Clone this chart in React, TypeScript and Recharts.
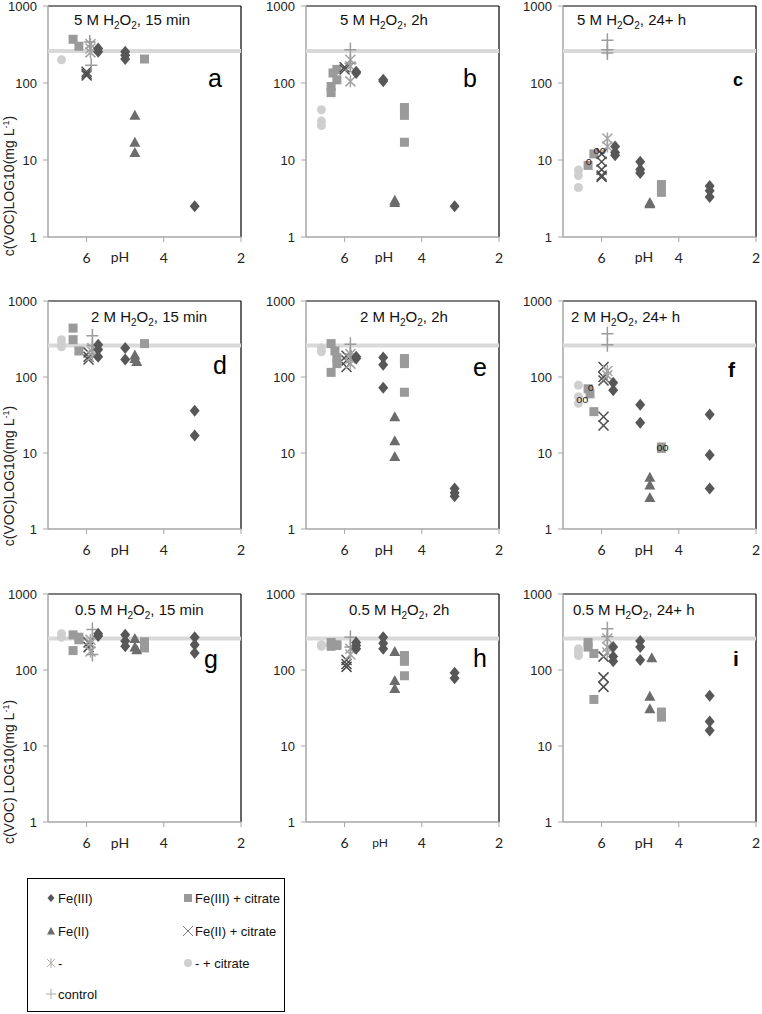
import React from 'react';
import { ScatterChart, Scatter, XAxis, YAxis, ReferenceLine } from 'recharts';

type T = [number, number];
type N = [number, number, string];

const xTicks = [6, 4, 2];
const yTicks = [1, 10, 100, 1000];
const controlLevel = 260;

// ---- panel a : 5 M H2O2, 15 min
const aFe3: T[] = [[5.7, 280], [5.7, 255], [5.0, 255], [5.0, 230], [5.0, 205], [3.2, 2.5]];
const aFe3Cit: T[] = [[6.35, 370], [6.2, 300], [4.5, 205]];
const aFe2: T[] = [[4.75, 38], [4.75, 17], [4.75, 12.5]];
const aFe2Cit: T[] = [[6.0, 140], [6.0, 125], [6.0, 132]];
const aNone: T[] = [[5.9, 320], [5.9, 250], [5.9, 280]];
const aNoneCit: T[] = [[6.65, 200]];
const aControl: T[] = [[5.92, 340], [5.88, 170]];

// ---- panel b : 5 M H2O2, 2h
const bFe3: T[] = [[5.7, 140], [5.7, 135], [5.0, 105], [5.0, 110], [3.15, 2.5]];
const bFe3Cit: T[] = [[6.35, 75], [6.35, 90], [6.3, 135], [6.2, 150], [6.2, 110], [4.45, 48], [4.45, 38], [4.45, 17]];
const bFe2: T[] = [[4.7, 3], [4.7, 2.8]];
const bFe2Cit: T[] = [[6.0, 150], [6.0, 160]];
const bNone: T[] = [[5.85, 200], [5.85, 105], [5.85, 165]];
const bNoneCit: T[] = [[6.6, 45], [6.6, 32], [6.6, 28]];
const bControl: T[] = [[5.85, 270], [5.85, 180]];

// ---- panel c : 5 M H2O2, 24+ h
const cFe3: T[] = [[5.65, 15], [5.65, 12.5], [5.65, 11.5], [5.0, 9.5], [5.0, 7.5], [5.0, 6.8], [3.2, 4.6], [3.2, 4.0], [3.2, 3.3]];
const cFe3Cit: T[] = [[6.35, 8.5], [6.2, 12], [4.45, 4.8], [4.45, 3.8]];
const cFe2: T[] = [[4.75, 2.8], [4.75, 2.7]];
const cFe2Cit: T[] = [[6.0, 12], [6.0, 9.5], [6.0, 7.5], [6.0, 6.3], [6.0, 6.0]];
const cNone: T[] = [[5.85, 19], [5.85, 15]];
const cNoneCit: T[] = [[6.6, 7.4], [6.6, 6.3], [6.6, 4.4]];
const cControl: T[] = [[5.85, 360], [5.85, 270], [5.85, 245]];
const cNotes: N[] = [[6.05, 13.5, 'oo'], [6.33, 9.8, 'o']];

// ---- panel d : 2 M H2O2, 15 min
const dFe3: T[] = [[5.7, 265], [5.7, 230], [5.7, 185], [5.0, 240], [5.0, 170], [3.2, 36], [3.2, 17]];
const dFe3Cit: T[] = [[6.35, 440], [6.35, 310], [6.2, 220], [4.5, 275]];
const dFe2: T[] = [[4.75, 195], [4.7, 160], [4.75, 175]];
const dFe2Cit: T[] = [[5.95, 185], [5.95, 170], [5.95, 210]];
const dNone: T[] = [[5.85, 215], [5.85, 190], [5.85, 240]];
const dNoneCit: T[] = [[6.65, 310], [6.65, 270], [6.65, 250]];
const dControl: T[] = [[5.85, 350], [5.85, 260]];

// ---- panel e : 2 M H2O2, 2h
const eFe3: T[] = [[5.7, 185], [5.7, 175], [5.0, 180], [5.0, 145], [5.0, 72], [3.15, 3.4], [3.15, 3.0], [3.15, 2.7]];
const eFe3Cit: T[] = [[6.35, 275], [6.35, 115], [6.25, 220], [6.2, 150], [6.2, 180], [4.45, 175], [4.45, 150], [4.45, 63]];
const eFe2: T[] = [[4.7, 30], [4.7, 14.5], [4.7, 9]];
const eFe2Cit: T[] = [[5.95, 165], [5.95, 135], [5.95, 190]];
const eNone: T[] = [[5.85, 175], [5.85, 150], [5.85, 200]];
const eNoneCit: T[] = [[6.6, 240], [6.6, 215]];
const eControl: T[] = [[5.85, 270], [5.85, 200]];

// ---- panel f : 2 M H2O2, 24+ h
const fFe3: T[] = [[5.7, 84], [5.7, 67], [5.0, 43], [5.0, 25], [3.2, 32], [3.2, 9.4], [3.2, 3.4]];
const fFe3Cit: T[] = [[6.35, 70], [6.3, 60], [6.2, 35], [4.45, 12], [4.45, 11.5]];
const fFe2: T[] = [[4.75, 4.8], [4.75, 3.8], [4.75, 2.6]];
const fFe2Cit: T[] = [[5.95, 135], [5.95, 100], [5.95, 90], [5.95, 30], [5.95, 23]];
const fNone: T[] = [[5.85, 120], [5.85, 105]];
const fNoneCit: T[] = [[6.6, 78], [6.6, 55], [6.6, 45]];
const fControl: T[] = [[5.85, 370], [5.85, 265]];
const fNotes: N[] = [[6.5, 51, 'oo'], [6.28, 74, 'o'], [4.42, 12, 'oo']];

// ---- panel g : 0.5 M H2O2, 15 min
const gFe3: T[] = [[5.7, 300], [5.7, 280], [5.0, 290], [5.0, 240], [5.0, 205], [3.2, 270], [3.2, 215], [3.2, 168]];
const gFe3Cit: T[] = [[6.35, 290], [6.35, 180], [6.2, 270], [6.2, 250], [4.5, 235], [4.5, 195]];
const gFe2: T[] = [[4.75, 260], [4.75, 200], [4.7, 185]];
const gFe2Cit: T[] = [[5.95, 200], [5.95, 230]];
const gNone: T[] = [[5.9, 225], [5.9, 175], [5.9, 250]];
const gNoneCit: T[] = [[6.65, 300], [6.65, 270]];
const gControl: T[] = [[5.85, 340], [5.85, 160]];

// ---- panel h : 0.5 M H2O2, 2h
const hFe3: T[] = [[5.7, 230], [5.7, 210], [5.7, 190], [5.0, 270], [5.0, 225], [5.0, 190], [3.15, 92], [3.15, 78]];
const hFe3Cit: T[] = [[6.35, 230], [6.35, 205], [6.2, 215], [6.2, 210], [4.45, 155], [4.45, 130], [4.45, 84]];
const hFe2: T[] = [[4.7, 175], [4.7, 73], [4.7, 57]];
const hFe2Cit: T[] = [[5.95, 135], [5.95, 110], [5.95, 120]];
const hNone: T[] = [[5.85, 190], [5.85, 160]];
const hNoneCit: T[] = [[6.6, 215], [6.6, 205]];
const hControl: T[] = [[5.85, 270], [5.85, 200]];

// ---- panel i : 0.5 M H2O2, 24+ h
const iFe3: T[] = [[5.7, 200], [5.7, 150], [5.7, 130], [5.0, 240], [5.0, 200], [5.0, 135], [3.2, 46], [3.2, 21], [3.2, 16]];
const iFe3Cit: T[] = [[6.35, 230], [6.35, 200], [6.2, 165], [6.2, 41], [4.45, 28], [4.45, 24]];
const iFe2: T[] = [[4.7, 145], [4.75, 45], [4.75, 31]];
const iFe2Cit: T[] = [[5.95, 150], [5.95, 80], [5.95, 60]];
const iNone: T[] = [[5.85, 200], [5.85, 170], [5.85, 260]];
const iNoneCit: T[] = [[6.6, 190], [6.6, 170], [6.6, 155]];
const iControl: T[] = [[5.85, 350], [5.85, 275]];

const legendLabels = ['Fe(III)', 'Fe(III) + citrate', 'Fe(II)', 'Fe(II) + citrate', '-', '- + citrate', 'control'];

const C = {
  fe3: '#575757',
  fe3cit: '#9a9a9a',
  fe2: '#6c6c6c',
  fe2cit: '#4e4e4e',
  none: '#a4a4a4',
  noneCit: '#cfcfcf',
  control: '#9c9c9c',
  ref: '#d9d9d9',
};

const SANS = 'Liberation Sans, Arial, sans-serif';

const Diamond = (p: any) => (
  <path d={`M${p.cx},${p.cy - 6}L${p.cx + 5},${p.cy}L${p.cx},${p.cy + 6}L${p.cx - 5},${p.cy}Z`} fill={C.fe3} />
);
const Square = (p: any) => <rect x={p.cx - 4.5} y={p.cy - 4.5} width={9} height={9} fill={C.fe3cit} />;
const Triangle = (p: any) => (
  <path d={`M${p.cx},${p.cy - 5.5}L${p.cx + 5.5},${p.cy + 4.5}L${p.cx - 5.5},${p.cy + 4.5}Z`} fill={C.fe2} />
);
const XMark = (p: any) => (
  <path d={`M${p.cx - 5},${p.cy - 5}L${p.cx + 5},${p.cy + 5}M${p.cx - 5},${p.cy + 5}L${p.cx + 5},${p.cy - 5}`} stroke={C.fe2cit} strokeWidth={1.5} fill="none" />
);
const Star = (p: any) => (
  <path
    d={`M${p.cx - 5},${p.cy - 5}L${p.cx + 5},${p.cy + 5}M${p.cx - 5},${p.cy + 5}L${p.cx + 5},${p.cy - 5}M${p.cx},${p.cy - 6}L${p.cx},${p.cy + 6}`}
    stroke={C.none}
    strokeWidth={1.5}
    fill="none"
  />
);
const Dot = (p: any) => <circle cx={p.cx} cy={p.cy} r={4.5} fill={C.noneCit} />;
const Plus = (p: any) => (
  <path d={`M${p.cx - 6},${p.cy}L${p.cx + 6},${p.cy}M${p.cx},${p.cy - 7}L${p.cx},${p.cy + 7}`} stroke={C.control} strokeWidth={1.5} fill="none" />
);
const Note = (p: any) => (
  <text x={p.cx} y={p.cy + 4} textAnchor="middle" fontSize={11} fontFamily={SANS} fill="#222">
    {p.payload.label}
  </text>
);
const NoShape = () => <g />;

const toPts = (a: T[]) => a.map(([x, y]) => ({ x, y }));
const toNotes = (a: N[]) => a.map(([x, y, label]) => ({ x, y, label }));

interface PanelDef {
  id: string;
  left: number;
  top: number;
  h: number;
  fe3: T[];
  fe3cit: T[];
  fe2: T[];
  fe2cit: T[];
  none: T[];
  noneCit: T[];
  control: T[];
  notes?: N[];
}

const COLS = [48, 306, 563];
const ROWS = [6, 301, 594];
const HS = [231, 228, 228];
const PW = 193;

const panels: PanelDef[] = [
  { id: 'a', left: COLS[0], top: ROWS[0], h: HS[0], fe3: aFe3, fe3cit: aFe3Cit, fe2: aFe2, fe2cit: aFe2Cit, none: aNone, noneCit: aNoneCit, control: aControl },
  { id: 'b', left: COLS[1], top: ROWS[0], h: HS[0], fe3: bFe3, fe3cit: bFe3Cit, fe2: bFe2, fe2cit: bFe2Cit, none: bNone, noneCit: bNoneCit, control: bControl },
  { id: 'c', left: COLS[2], top: ROWS[0], h: HS[0], fe3: cFe3, fe3cit: cFe3Cit, fe2: cFe2, fe2cit: cFe2Cit, none: cNone, noneCit: cNoneCit, control: cControl, notes: cNotes },
  { id: 'd', left: COLS[0], top: ROWS[1], h: HS[1], fe3: dFe3, fe3cit: dFe3Cit, fe2: dFe2, fe2cit: dFe2Cit, none: dNone, noneCit: dNoneCit, control: dControl },
  { id: 'e', left: COLS[1], top: ROWS[1], h: HS[1], fe3: eFe3, fe3cit: eFe3Cit, fe2: eFe2, fe2cit: eFe2Cit, none: eNone, noneCit: eNoneCit, control: eControl },
  { id: 'f', left: COLS[2], top: ROWS[1], h: HS[1], fe3: fFe3, fe3cit: fFe3Cit, fe2: fFe2, fe2cit: fFe2Cit, none: fNone, noneCit: fNoneCit, control: fControl, notes: fNotes },
  { id: 'g', left: COLS[0], top: ROWS[2], h: HS[2], fe3: gFe3, fe3cit: gFe3Cit, fe2: gFe2, fe2cit: gFe2Cit, none: gNone, noneCit: gNoneCit, control: gControl },
  { id: 'h', left: COLS[1], top: ROWS[2], h: HS[2], fe3: hFe3, fe3cit: hFe3Cit, fe2: hFe2, fe2cit: hFe2Cit, none: hNone, noneCit: hNoneCit, control: hControl },
  { id: 'i', left: COLS[2], top: ROWS[2], h: HS[2], fe3: iFe3, fe3cit: iFe3Cit, fe2: iFe2, fe2cit: iFe2Cit, none: iNone, noneCit: iNoneCit, control: iControl },
];

const refLine = [
  { x: 7, y: controlLevel },
  { x: 2, y: controlLevel },
];

function Panel({ p }: { p: PanelDef }) {
  const YW = 50;
  const MT = 6;
  const MR = 8;
  const XH = 40;
  const W = YW + PW + MR;
  const H = MT + p.h + XH;
  return (
    <div style={{ position: 'absolute', left: p.left - YW, top: p.top - MT }}>
      <ScatterChart width={W} height={H} margin={{ top: MT, right: MR, bottom: 0, left: 0 }}>
        <XAxis
          type="number"
          dataKey="x"
          domain={[2, 7]}
          reversed
          ticks={xTicks}
          interval={0}
          allowDataOverflow
          height={XH}
          axisLine={{ stroke: '#a6a6a6', strokeWidth: 1.5 }}
          tickLine={{ stroke: '#a6a6a6' }}
          tickSize={5}
          tickMargin={11}
          tick={{ fontSize: 14, fill: '#222', fontFamily: 'Lato, sans-serif' }}
        />
        <YAxis
          type="number"
          dataKey="y"
          scale="log"
          domain={[1, 1000]}
          ticks={yTicks}
          interval={0}
          allowDataOverflow
          width={YW}
          axisLine={{ stroke: '#a6a6a6', strokeWidth: 1.5 }}
          tickLine={{ stroke: '#a6a6a6' }}
          tickSize={5}
          tickMargin={6}
          tick={{ fontSize: 13, fill: '#222', fontFamily: SANS }}
        />
        <Scatter data={refLine} line={{ stroke: C.ref, strokeWidth: 4 }} shape={NoShape} isAnimationActive={false} legendType="none" />
        <Scatter data={toPts(p.noneCit)} shape={Dot} isAnimationActive={false} />
        <Scatter data={toPts(p.fe3cit)} shape={Square} isAnimationActive={false} />
        <Scatter data={toPts(p.fe2cit)} shape={XMark} isAnimationActive={false} />
        <Scatter data={toPts(p.none)} shape={Star} isAnimationActive={false} />
        <Scatter data={toPts(p.control)} shape={Plus} isAnimationActive={false} />
        <Scatter data={toPts(p.fe2)} shape={Triangle} isAnimationActive={false} />
        <Scatter data={toPts(p.fe3)} shape={Diamond} isAnimationActive={false} />
        {p.notes ? <Scatter data={toNotes(p.notes)} shape={Note} isAnimationActive={false} /> : null}
        <ReferenceLine y={1000} stroke="#000" strokeWidth={1.2} />
        <ReferenceLine x={2} stroke="#000" strokeWidth={1.2} />
      </ScatterChart>
    </div>
  );
}

const titles = [
  { conc: '5', time: '15 min', x: 74, y: 25 },
  { conc: '5', time: '2h', x: 340, y: 25 },
  { conc: '5', time: '24+ h', x: 577, y: 25 },
  { conc: '2', time: '15 min', x: 91, y: 322 },
  { conc: '2', time: '2h', x: 360, y: 322 },
  { conc: '2', time: '24+ h', x: 571, y: 322 },
  { conc: '0.5', time: '15 min', x: 75, y: 615 },
  { conc: '0.5', time: '2h', x: 349, y: 615 },
  { conc: '0.5', time: '24+ h', x: 573, y: 615 },
];

const letters = [
  { t: 'a', x: 208, y: 87, s: 25, w: 400 },
  { t: 'b', x: 463, y: 87, s: 25, w: 400 },
  { t: 'c', x: 733, y: 86, s: 18, w: 700 },
  { t: 'd', x: 213, y: 374, s: 25, w: 400 },
  { t: 'e', x: 473, y: 376, s: 25, w: 400 },
  { t: 'f', x: 728, y: 377, s: 21, w: 700 },
  { t: 'g', x: 204, y: 668, s: 25, w: 400 },
  { t: 'h', x: 473, y: 667, s: 25, w: 400 },
  { t: 'i', x: 733, y: 666, s: 21, w: 700 },
];

const phLabels = [
  { x: 120, y: 262, s: 14 },
  { x: 384, y: 262, s: 14 },
  { x: 644, y: 262, s: 14 },
  { x: 120, y: 555, s: 14 },
  { x: 384, y: 555, s: 14 },
  { x: 644, y: 555, s: 14 },
  { x: 120, y: 848, s: 14 },
  { x: 380, y: 847, s: 12 },
  { x: 644, y: 848, s: 14 },
];

const yTitles = [
  { cy: 186, text: 'c(VOC)LOG10(mg L' },
  { cy: 476, text: 'c(VOC)LOG10(mg L' },
  { cy: 772, text: 'c(VOC) LOG10(mg L' },
];

function Legend() {
  const r = [898, 931, 963, 994];
  const c1 = 51;
  const c2 = 188;
  const tx1 = 58;
  const tx2 = 195;
  const fs = 13;
  return (
    <g fontFamily={SANS} fontSize={fs} fill="#111">
      <rect x={27.5} y={878.5} width={257} height={133} fill="#fff" stroke="#000" strokeWidth={1} />
      <path d={`M${c1},${r[0] - 4}L${c1 + 3.5},${r[0]}L${c1},${r[0] + 4}L${c1 - 3.5},${r[0]}Z`} fill={C.fe3} />
      <text x={tx1} y={r[0] + 5}>{legendLabels[0]}</text>
      <rect x={c2 - 4} y={r[0] - 4} width={8} height={8} fill={C.fe3cit} />
      <text x={tx2} y={r[0] + 5}>{legendLabels[1]}</text>
      <path d={`M${c1},${r[1] - 4}L${c1 + 4},${r[1] + 3.5}L${c1 - 4},${r[1] + 3.5}Z`} fill={C.fe2} />
      <text x={tx1} y={r[1] + 5}>{legendLabels[2]}</text>
      <path d={`M${c2 - 5},${r[1] - 5}L${c2 + 5},${r[1] + 5}M${c2 - 5},${r[1] + 5}L${c2 + 5},${r[1] - 5}`} stroke="#777" strokeWidth={1} fill="none" />
      <text x={tx2} y={r[1] + 5}>{legendLabels[3]}</text>
      <path d={`M${c1 - 4},${r[2] - 4}L${c1 + 4},${r[2] + 4}M${c1 - 4},${r[2] + 4}L${c1 + 4},${r[2] - 4}M${c1},${r[2] - 5}L${c1},${r[2] + 5}`} stroke="#aaa" strokeWidth={1} fill="none" />
      <text x={tx1} y={r[2] + 5}>{legendLabels[4]}</text>
      <circle cx={c2} cy={r[2]} r={4} fill={C.noneCit} />
      <text x={tx2} y={r[2] + 5}>{legendLabels[5]}</text>
      <path d={`M${c1 - 5},${r[3]}L${c1 + 5},${r[3]}M${c1},${r[3] - 5}L${c1},${r[3] + 5}`} stroke="#aaa" strokeWidth={1} fill="none" />
      <text x={tx1} y={r[3] + 5}>{legendLabels[6]}</text>
    </g>
  );
}

function Overlay() {
  return (
    <svg width={762} height={1014} style={{ position: 'absolute', left: 0, top: 0, pointerEvents: 'none' }}>
      {titles.map((t, i) => (
        <text key={'t' + i} x={t.x} y={t.y} fontSize={15} fontFamily={SANS} fill="#111">
          {t.conc} M H
          <tspan dy={4} fontSize={10}>2</tspan>
          <tspan dy={-4}>O</tspan>
          <tspan dy={4} fontSize={10}>2</tspan>
          <tspan dy={-4}>, {t.time}</tspan>
        </text>
      ))}
      {letters.map((l) => (
        <text key={l.t} x={l.x} y={l.y} fontSize={l.s} fontWeight={l.w} fontFamily={SANS} fill="#000">
          {l.t}
        </text>
      ))}
      {phLabels.map((l, i) => (
        <text key={'ph' + i} x={l.x} y={l.y} fontSize={l.s} textAnchor="middle" fontFamily="Lato, sans-serif" fill="#222">
          pH
        </text>
      ))}
      {yTitles.map((t, i) => (
        <text key={'y' + i} transform={`translate(14, ${t.cy}) rotate(-90)`} textAnchor="middle" fontSize={14} fontFamily={SANS} fill="#222">
          {t.text}
          <tspan dy={-5} fontSize={9}>-1</tspan>
          <tspan dy={5}>)</tspan>
        </text>
      ))}
      <Legend />
    </svg>
  );
}

export default function App() {
  return (
    <div style={{ position: 'absolute', left: 0, top: 0, width: 762, height: 1014, background: '#fff', overflow: 'hidden' }}>
      {panels.map((p) => (
        <Panel key={p.id} p={p} />
      ))}
      <Overlay />
    </div>
  );
}
